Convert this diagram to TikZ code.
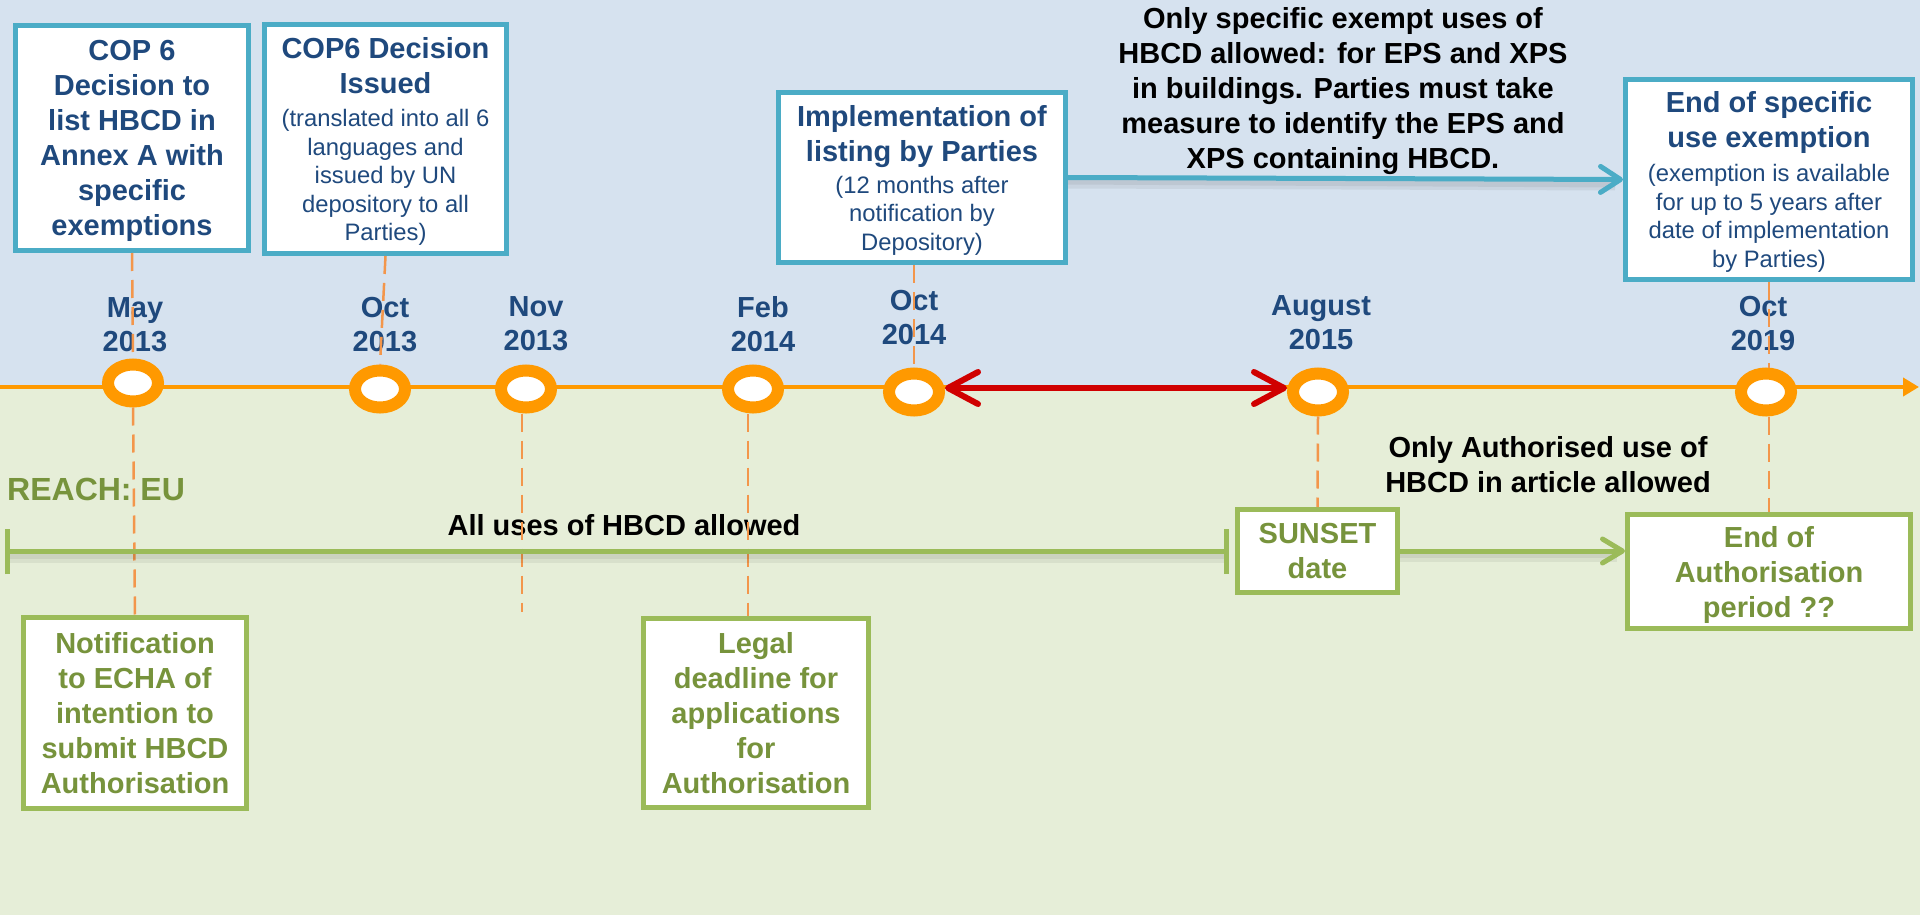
\documentclass[tikz,border=0pt]{standalone}
\usepackage{fontspec}
\setmainfont{Liberation Sans}
\usetikzlibrary{arrows.meta,shapes.geometric}

\definecolor{skybg}{RGB}{214,226,239}
\definecolor{leafbg}{RGB}{230,238,216}
\definecolor{tlorange}{RGB}{255,153,0}
\definecolor{dashorange}{RGB}{243,150,75}
\definecolor{cyanedge}{RGB}{75,172,198}
\definecolor{navytext}{RGB}{31,73,125}
\definecolor{leafedge}{RGB}{155,187,89}
\definecolor{leaftext}{RGB}{119,147,60}
\definecolor{spanred}{RGB}{208,0,0}

\newcommand{\hbcdBig}{\fontsize{29pt}{35pt}\selectfont\bfseries}
\newcommand{\hbcdSmall}{\fontsize{23.8pt}{28.5pt}\selectfont\mdseries}
\newcommand{\hbcdDate}{\fontsize{29pt}{34pt}\selectfont\bfseries}
\newcommand{\hbcdReach}{\fontsize{32pt}{38pt}\selectfont\bfseries}

\begin{document}
\begin{tikzpicture}[x=1pt,y=-1pt,
  unbox/.style={draw=cyanedge, line width=5pt, fill=white, inner sep=0pt,
    align=center, text=navytext, font=\hbcdBig, text depth=0pt},
  eubox/.style={draw=leafedge, line width=5pt, fill=white, inner sep=0pt,
    align=center, text=leaftext, font=\hbcdBig, text depth=0pt},
  datelbl/.style={inner sep=0pt, align=center, text=navytext, font=\hbcdDate},
  milestone/.style={ellipse, draw=tlorange, fill=white, line width=12pt,
    minimum width=50pt, minimum height=37pt, inner sep=0pt},
  guide/.style={draw=dashorange, line width=2.5pt, dash pattern=on 18pt off 9pt},
  note/.style={inner sep=0pt, align=center, text=black, font=\hbcdBig, text depth=0pt},
  haze/.style={draw=black, line width=#1, opacity=0.06},
]

% backdrop: Stockholm Convention band above, EU REACH band below
\fill[skybg] (0,0) rectangle (1920,387);
\fill[leafbg] (0,387) rectangle (1920,915);
\useasboundingbox (0,0) rectangle (1920,915);

% month labels
\node[datelbl] (dmay)   at (135,324.5)  {May\\2013};
\node[datelbl] (doct13) at (385,324.5)  {Oct\\2013};
\node[datelbl] (dnov)   at (536,324)    {Nov\\2013};
\node[datelbl] (dfeb)   at (763,324)    {Feb\\2014};
\node[datelbl] (doct14) at (914,318)    {Oct\\2014};
\node[datelbl] (daug)   at (1321,322.5) {August\\2015};
\node[datelbl] (doct19) at (1763,323.5) {Oct\\2019};

% time axis
\coordinate (tstart) at (0,387);
\coordinate (tend) at (1919,387);
\draw[tlorange, line width=4.5pt, -{Triangle[length=16pt,width=18pt]}] (tstart) -- (tend);

% Stockholm Convention events
\node[unbox, minimum width=233pt, minimum height=225pt] (cop) at (132,138)
  {COP 6\\Decision to\\list HBCD in\\Annex A with\\specific\\exemptions};
\node[unbox, minimum width=242pt, minimum height=229pt] (issued) at (385.5,139)
  {COP6 Decision\\Issued\\[-2pt]
   \hbcdSmall (translated into all 6\\[-6.5pt]
   \hbcdSmall languages and\\[-6.5pt]
   \hbcdSmall issued by UN\\[-6.5pt]
   \hbcdSmall depository to all\\[-6.5pt]
   \hbcdSmall Parties)};
\node[unbox, minimum width=287pt, minimum height=170pt] (impl) at (922,177.5)
  {Implementation of\\listing by Parties\\[-3pt]
   \hbcdSmall (12 months after\\[-6.5pt]
   \hbcdSmall notification by\\[-6.5pt]
   \hbcdSmall Depository)};
\node[unbox, minimum width=287pt, minimum height=200pt] (endex) at (1769,179.5)
  {End of specific\\use exemption\\[-1pt]
   \hbcdSmall (exemption is available\\[-6.5pt]
   \hbcdSmall for up to 5 years after\\[-6.5pt]
   \hbcdSmall date of implementation\\[-6.5pt]
   \hbcdSmall by Parties)};

% EU REACH events
\node[eubox, minimum width=223pt, minimum height=191pt] (notif) at (135,713)
  {Notification\\to ECHA of\\intention to\\submit HBCD\\Authorisation};
\node[eubox, minimum width=225pt, minimum height=189pt] (legal) at (756,713)
  {Legal\\deadline for\\applications\\for\\Authorisation};
\node[eubox, minimum width=160pt, minimum height=83pt] (sunset) at (1317.5,551)
  {SUNSET\\date};
\node[eubox, minimum width=283pt, minimum height=114pt] (endauth) at (1769,571.5)
  {End of\\Authorisation\\period ??};

% period notes
\node[note] (exnote) at (1343,88)
  {Only specific exempt uses of\\HBCD allowed: for EPS and XPS\\in buildings. Parties must take\\measure to identify the EPS and\\XPS containing HBCD.};
\node[note] (authnote) at (1548,464) {Only Authorised use of\\HBCD in article allowed};
\node[note, anchor=base] (allnote) at (624,535) {All uses of HBCD allowed};
\node[inner sep=0pt, anchor=base west, text=leaftext, font=\hbcdReach] (reach) at (7,500) {REACH: EU};

% milestones on the axis
\node[milestone] (c1) at (133,383) {};
\node[milestone] (c2) at (380,389) {};
\node[milestone] (c3) at (526,389) {};
\node[milestone] (c4) at (753,389) {};
\node[milestone] (c5) at (914,392) {};
\node[milestone] (c6) at (1318,392) {};
\node[milestone] (c7) at (1766,392) {};

% guide lines from milestones to events
\draw[guide] (cop.south) -- (c1.north);
\draw[guide] (c1.south) -- (notif.north);
\draw[guide] (issued.south) -- (c2.north);
\coordinate (novend) at (522,612);
\draw[guide] (c3.south -| novend) -- (novend);
\coordinate (febx) at (748,0);
\draw[guide] (c4.south -| febx) -- (legal.north -| febx);
\draw[guide] (impl.south -| c5) -- (c5.north);
\draw[guide] (c6.south) -- (sunset.north);
\draw[guide] (endex.south) -- (c7.north -| endex.south);
\draw[guide] (c7.south -| endauth.north) -- (endauth.north);

% implementation window
\draw[spanred, line width=6pt,
  {Straight Barb[length=30pt,width=32pt,round]}-{Straight Barb[length=30pt,width=32pt,round]}]
  ([yshift=4pt]c5.east) -- ([yshift=4pt]c6.west);

% exemption period
\coordinate (bshadow) at ([yshift=-5pt,xshift=-8pt]endex.west);
\draw[haze=12pt] ([yshift=-5pt]impl.east) -- (bshadow);
\draw[haze=6pt] ([yshift=-4pt]impl.east) -- (bshadow);
\draw[cyanedge, line width=5pt, -{Straight Barb[length=20pt,width=26pt,round]}] (impl.east) -- (endex.west);

% REACH: all uses allowed until the sunset date
\coordinate (reachstart) at (5,551.5);
\coordinate (reachend) at (1229,551.5);
\draw[haze=12pt] ([yshift=-5pt]reachstart) -- ([yshift=-5pt]reachend);
\draw[haze=6pt] ([yshift=-4pt]reachstart) -- ([yshift=-4pt]reachend);
\draw[leafedge, line width=5pt, {Bar[width=45pt]}-{Bar[width=45pt]}] (reachstart) -- (reachend);

% REACH: authorised use only
\coordinate (gtip) at (endauth.west |- sunset.east);
\draw[haze=12pt] ([yshift=-5pt]sunset.east) -- ([yshift=-5pt,xshift=-8pt]gtip);
\draw[haze=6pt] ([yshift=-4pt]sunset.east) -- ([yshift=-4pt,xshift=-8pt]gtip);
\draw[leafedge, line width=5pt, -{Straight Barb[length=20pt,width=24pt,round]}] (sunset.east) -- (gtip);

\end{tikzpicture}
\end{document}
